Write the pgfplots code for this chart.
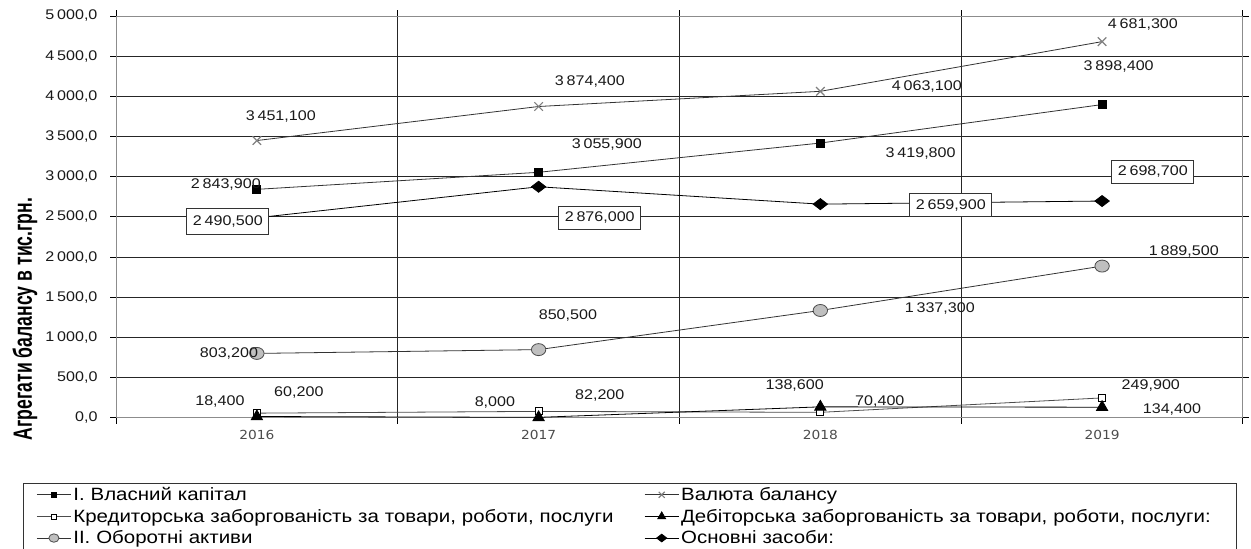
\documentclass[border=0pt]{standalone}
\usepackage{fontspec}
\setmainfont{Liberation Sans}[FakeStretch=1.15]
\newfontfamily\labfont{Liberation Sans}
\newfontfamily\xfont{DejaVu Sans}[FakeStretch=1.1]
\usepackage{pgfplots}
\pgfplotsset{compat=1.18}
\newcommand\s{\hspace{2.8pt}}
\tikzset{
  lab/.style={font=\fontsize{14}{16}\selectfont, text=black!90, inner sep=1pt},
  boxlab/.style={font=\fontsize{14}{16}\selectfont, text=black!90, draw=black!80, line width=0.8pt, fill=white, inner xsep=6pt, minimum height=23pt},
}
\begin{document}
\begin{tikzpicture}[x=1pt,y=1pt]
\begin{axis}[
  set layers,
  at={(116pt,131pt)}, anchor=south west,
  width=1127pt, height=402pt, scale only axis,
  xmin=-0.5, xmax=3.5, ymin=0, ymax=5000,
  xtick={-0.5,0.5,1.5,2.5,3.5}, xticklabels={},
  extra x ticks={0,1,2,3}, extra x tick labels={2016,2017,2018,2019},
  extra x tick style={grid=none, tick style={draw=none}},
  xticklabel style={font=\xfont\fontsize{12.5}{14}\selectfont, text=black!70, yshift=-3pt},
  ytick={0,500,...,5000},
  grid=major, major grid style={draw=black!85, line width=1pt},
  tick align=outside, major tick length=6pt,
  tick style={draw=black, line width=1pt},
  axis line style={draw=black!45, line width=1pt},
  yticklabel style={font=\fontsize{14}{16}\selectfont, text=black!90, xshift=-9pt,
    /pgf/number format/fixed, /pgf/number format/fixed zerofill,
    /pgf/number format/precision=1, /pgf/number format/use comma,
    /pgf/number format/1000 sep={\s}, /pgf/number format/assume math mode=true},
  legend columns=2, legend cell align=left,
  legend style={at={(-0.0825,-0.1617)}, anchor=north west, draw=black!80, line width=1pt,
    font=\fontsize{17.8}{20}\selectfont, inner xsep=13pt, inner ysep=3pt, row sep=5pt,
    nodes={inner ysep=1pt},
    /tikz/column 2/.style={nodes={text width=569pt}},
    /tikz/column 4/.style={nodes={text width=540pt}}},
  legend image code/.code={\draw[mark repeat=2,mark phase=2, every mark/.append style={scale=0.7}] plot coordinates {(0pt,0pt) (17pt,0pt) (34pt,0pt)};},
]
\addplot[black!80, line width=0.8pt, mark=square*, mark size=4pt, mark options={fill=black, draw=black}] coordinates {(0,2843.9) (1,3055.9) (2,3419.8) (3,3898.4)};
\addlegendentry{I. Власний капітал}
\addplot[black!80, line width=0.8pt, mark=x, mark size=6pt, mark options={draw=black!50, line width=1.2pt}] coordinates {(0,3451.1) (1,3874.4) (2,4063.1) (3,4681.3)};
\addlegendentry{Валюта балансу}
\addplot[black!70, line width=0.8pt, mark=square*, mark size=3.5pt, mark options={fill=white, draw=black, line width=0.8pt}] coordinates {(0,60.2) (1,82.2) (2,70.4) (3,249.9)};
\addlegendentry{Кредиторська заборгованість за товари, роботи, послуги}
\addplot[black, line width=0.8pt, mark=triangle*, mark size=6.5pt, mark options={fill=black}] coordinates {(0,18.4) (1,8.0) (2,138.6) (3,134.4)};
\addlegendentry{Дебіторська заборгованість за товари, роботи, послуги:}
\addplot[black!80, line width=0.8pt, mark=*, mark size=6pt, mark options={fill=black!25, draw=black!70, xscale=1.2}] coordinates {(0,803.2) (1,850.5) (2,1337.3) (3,1889.5)};
\addlegendentry{II. Оборотні активи}
\addplot[black, line width=0.8pt, mark=diamond*, mark size=6pt, mark options={fill=black, xscale=1.6, yscale=0.92}] coordinates {(0,2490.5) (1,2876.0) (2,2659.9) (3,2698.7)};
\addlegendentry{Основні засоби:}

\begin{pgfonlayer}{axis foreground}
\node[lab] at (axis cs:0.085,3744) {3\s451,100};
\node[lab] at (axis cs:1.182,4191) {3\s874,400};
\node[lab] at (axis cs:2.378,4117) {4\s063,100};
\node[lab] at (axis cs:3.145,4900) {4\s681,300};
\node[lab] at (axis cs:-0.110,2898) {2\s843,900};
\node[lab] at (axis cs:1.242,3396) {3\s055,900};
\node[lab] at (axis cs:2.356,3284) {3\s419,800};
\node[lab] at (axis cs:3.059,4378) {3\s898,400};
\node[boxlab, minimum height=26pt] at (axis cs:-0.103,2440) {2\s490,500};
\node[boxlab] at (axis cs:1.217,2488) {2\s876,000};
\node[boxlab] at (axis cs:2.463,2649) {2\s659,900};
\node[boxlab] at (axis cs:3.180,3060) {2\s698,700};
\node[lab] at (axis cs:-0.099,796) {803,200};
\node[lab] at (axis cs:1.104,1269) {850,500};
\node[lab] at (axis cs:2.424,1356) {1\s337,300};
\node[lab] at (axis cs:3.290,2077) {1\s889,500};
\node[lab] at (axis cs:-0.131,199) {18,400};
\node[lab] at (axis cs:0.149,311) {60,200};
\node[lab] at (axis cs:0.845,187) {8,000};
\node[lab] at (axis cs:1.217,274) {82,200};
\node[lab] at (axis cs:1.909,398) {138,600};
\node[lab] at (axis cs:2.211,199) {70,400};
\node[lab] at (axis cs:3.173,410) {249,900};
\node[lab] at (axis cs:3.248,100) {134,400};
\end{pgfonlayer}
\end{axis}
\node[rotate=90] at (25,230) {\scalebox{0.8}[1.2]{\labfont\bfseries\fontsize{22}{24}\selectfont Агрегати балансу в тис.грн.}};
\pgfresetboundingbox
\path[use as bounding box] (0,0) rectangle (1251,549);
\end{tikzpicture}
\end{document}
